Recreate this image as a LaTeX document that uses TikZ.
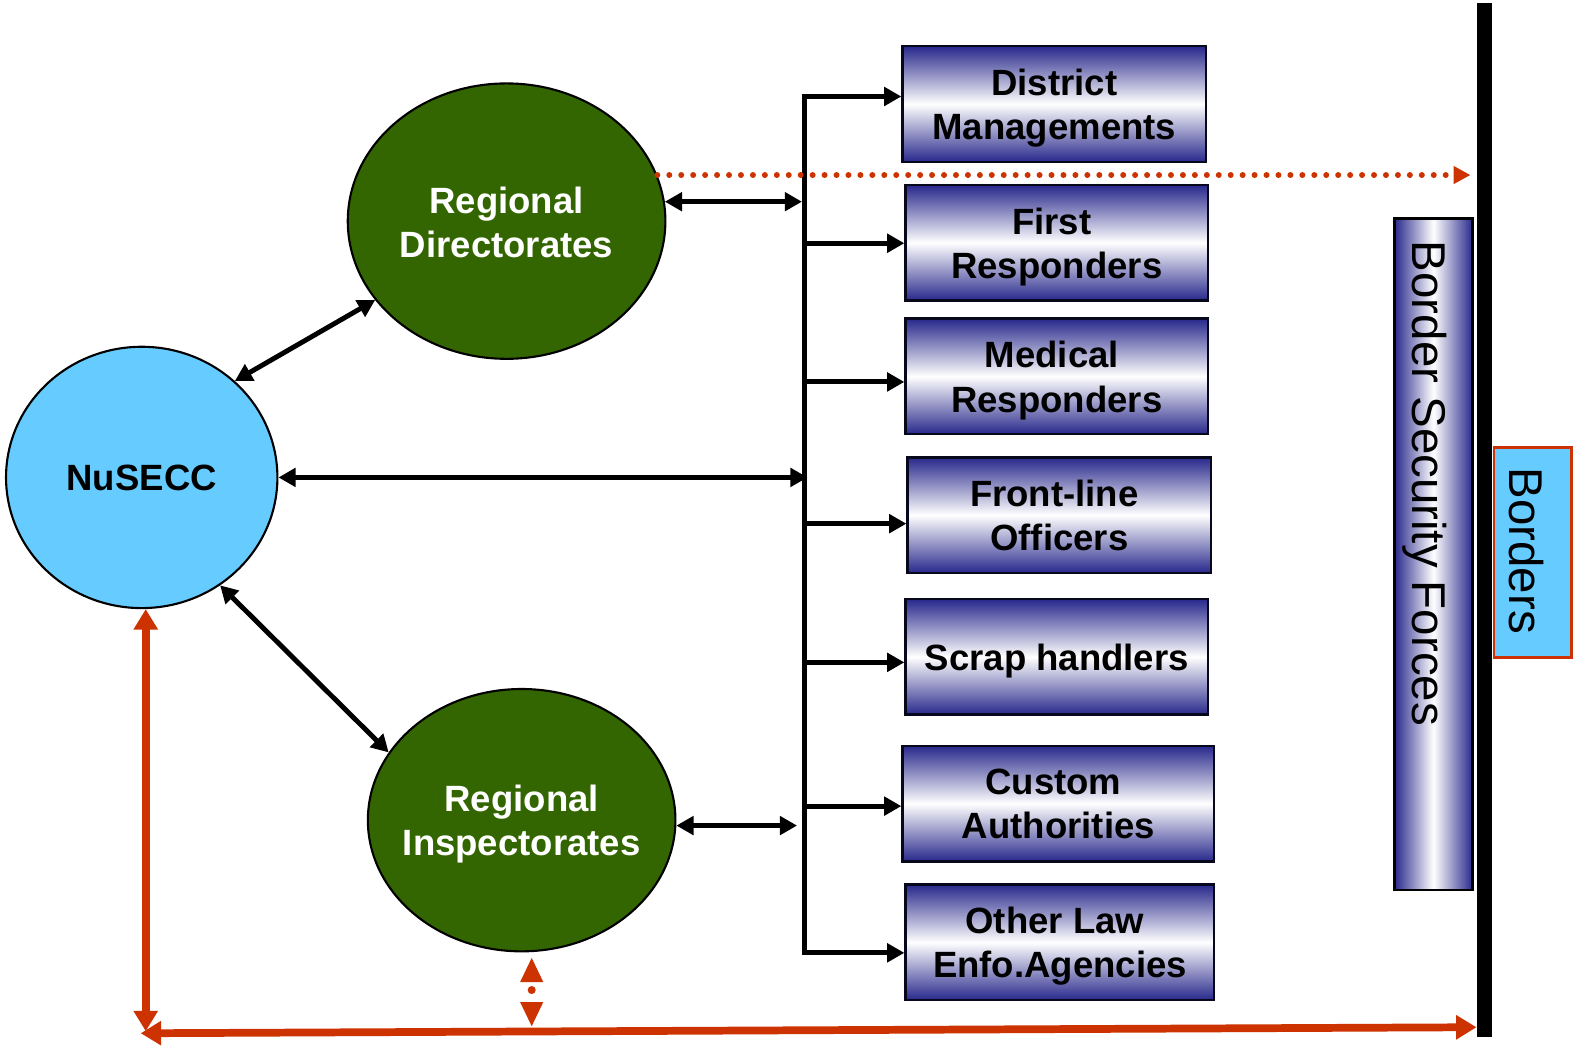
\documentclass[tikz,border=0pt]{standalone}
\usepackage{fontspec}
\setmainfont{Liberation Sans}
\usetikzlibrary{arrows.meta,shapes.geometric,calc}
\definecolor{navy}{RGB}{40,40,140}
\definecolor{dgreen}{RGB}{51,102,0}
\definecolor{lblue}{RGB}{102,204,255}
\definecolor{rred}{RGB}{204,51,0}
\newcommand{\tsp}{\hspace*{0.278em}}
\begin{document}
\begin{tikzpicture}[x=0.010051cm, y=-0.010051cm,
  wh/.style 2 args={minimum width=#1*0.010051cm, minimum height=#2*0.010051cm},
  lbl/.style={font=\bfseries\fontsize{10.4}{12.6}\selectfont, align=center, inner sep=0pt},
  boxbase/.style={draw=black!80!navy, line width=0.7pt, top color=navy, bottom color=navy, middle color=white, inner sep=0pt},
  boxnode/.style={boxbase, label={[lbl, yshift=-1.15pt]center:#1}},
  boxnodeb/.style={boxbase, label={[lbl]center:#1}},
  ell/.style={ellipse, draw=black, line width=0.6pt, inner sep=0pt},
  blk/.style={line width=1.4pt, line join=miter},
  dbl/.style={blk, {Triangle[length=4.9pt,width=5.2pt]}-{Triangle[length=4.9pt,width=5.2pt]}},
  onew/.style={blk, -{Triangle[length=4.9pt,width=5.2pt]}},
  redl/.style={rred, line width=2.2pt, {Triangle[length=5.8pt,width=6.6pt]}-{Triangle[length=5.8pt,width=6.6pt]}},
  bigtxt/.style={font=\fontsize{13.5}{16}\selectfont, inner sep=0pt}
]
\useasboundingbox (0,0) rectangle (1568,1041);

% ellipses
\node[ell, fill=lblue, wh={270}{260}, label={[lbl]center:NuSECC}] (nu) at (141,475) {};
\node[ell, fill=dgreen, wh={316}{274}, label={[lbl, text=white, yshift=-0.3pt]center:Regional\\Directorates}] (rd) at (504,220) {};
\node[ell, fill=dgreen, wh={306}{261}, label={[lbl, text=white, yshift=-1.2pt]center:Regional\\Inspectorates}] (ri) at (519,816) {};

% boxes
\node[boxnode={District\\Managements}, wh={302}{115}] (dm) at (1049,103.5) {};
\node[boxnode={First\tsp\\Responders}, wh={301}{115}] (fr) at (1051.5,241.5) {};
\node[boxnode={Medical\tsp\\Responders}, wh={301}{115}] (mr) at (1051.5,374.5) {};
\node[boxnodeb={Front-line\tsp\\Officers}, wh={302}{115}] (fl) at (1054,512.5) {};
\node[boxnode={Scrap handlers}, wh={301}{115}] (sh) at (1051.5,653.5) {};
\node[boxnodeb={Custom\tsp\\Authorities}, wh={310}{115}] (ca) at (1053,799.5) {};
\node[boxnode={Other Law\tsp\\Enfo.Agencies}, wh={307}{115}] (ol) at (1054.5,937.5) {};

% border elements
\node[fill=black, inner sep=0pt, wh={15}{1029}, anchor=north west] (bar) at (1469,2) {};
\node[draw=black, line width=0.7pt, left color=navy, right color=navy, middle color=white, inner sep=0pt, wh={78}{668}, anchor=north west] (bsf) at (1386,216) {};
\node[bigtxt, rotate=-90, anchor=base] (bsft) at (1405,481) {Border Security Forces};
\node[draw=rred, line width=0.8pt, fill=lblue, inner sep=0pt, wh={77}{209}, anchor=north west] (bord) at (1485,444) {};
\node[bigtxt, rotate=-90, anchor=base] (bordt) at (1502,548) {Borders};

% trunk
\coordinate (t1) at (800,96);
\coordinate (t2) at (800,242);
\coordinate (t3) at (800,380);
\coordinate (t4) at (800,521);
\coordinate (t5) at (800,659);
\coordinate (t6) at (800,802);
\coordinate (t7) at (800,948);
\draw[dbl] (dm.west |- t1) -- (t1) -- (t7) -- (ol.west |- t7);
\draw[onew] (t2) -- (fr.west |- t2);
\draw[onew] (t3) -- (mr.west |- t3);
\draw[onew] (t4) -- (fl.west |- t4);
\draw[onew] (t5) -- (sh.west |- t5);
\draw[onew] (t6) -- (ca.west |- t6);

% ellipse connectors
\draw[dbl] (nu.46) -- (rd.211);
\draw[dbl] (nu.-54) -- (ri.153);
\draw[dbl, shorten >=0.6pt] (rd.7) -- (rd.7 -| t1);
\draw[dbl, shorten >=-1pt] (nu.east) -- (nu.east -| t1);
\draw[dbl, shorten >=2pt] (ri.-2) -- (ri.-2 -| t1);

% red dotted to border
\draw[rred, line width=1.7pt, line cap=round, dash pattern=on 0pt off 3.4pt,
      -{Triangle[length=4.8pt,width=4.8pt]}, shorten >=1.7pt] (rd.17) -- (rd.17 -| bar.west);

% red bottom connectors
\coordinate (cv) at (145,1026);
\coordinate (bl) at (140,1028);
\draw[redl] (cv |- nu.south) -- (cv);
\draw[redl] (bl) -- (bar.west |- 0,1022);

% small red double arrow below inspectorates
\coordinate (sa) at (529,953);
\fill[rred] (sa) -- ++(11.5,24) -- ++(-23,0) -- cycle;
\fill[rred] (529,985) circle (4);
\fill[rred] (529,1021) -- ++(11.5,-24) -- ++(-23,0) -- cycle;
\end{tikzpicture}
\end{document}
